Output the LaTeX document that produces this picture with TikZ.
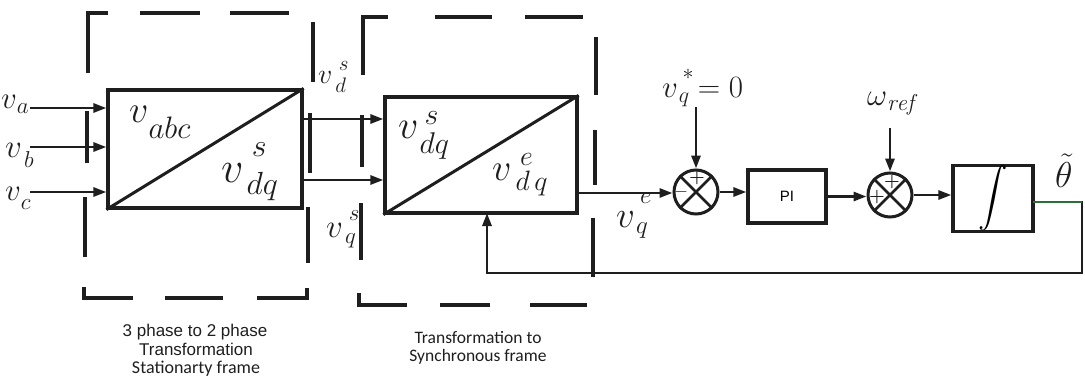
\RequirePackage{fix-cm}
\documentclass[tikz,border=0pt]{standalone}
\usepackage{fontspec}
\newfontfamily\arialf{Liberation Sans}
\newfontfamily\calf{Carlito}
\usetikzlibrary{arrows.meta}
\definecolor{ink}{RGB}{30,30,30}
\definecolor{gline}{RGB}{45,110,55}
\newcommand\fs[1]{\fontsize{#1}{#1}\selectfont}
% \vlab{main size}{script size}{sup}{sub}{sup raise}{sub drop}{gap}
\newcommand\vlab[7]{{\fs{#1}$v$}\hspace{#7}{\fs{#2}\rlap{\raisebox{#5}{$\,#3$}}\raisebox{-#6}{$#4$}}}
\begin{document}
\begin{tikzpicture}[x=1pt,y=-1pt,
  line/.style={draw=ink, line width=2.8pt},
  arr/.style={line, -{Triangle[length=13pt,width=9pt]}},
  blk/.style={draw=ink, line width=3.2pt, inner sep=0pt, fill=white},
  sumj/.style={circle, draw=ink, line width=3pt, minimum size=44pt, inner sep=0pt},
  frame/.style={draw=ink, line width=3.2pt},
  lab/.style={anchor=base west, inner sep=0pt, text=ink},
  captext/.style={anchor=base, inner sep=0pt, text=ink},
  sgn/.style={inner sep=0pt, text=ink, font=\fs{18}\bfseries}]
\useasboundingbox (0,0) rectangle (1085,381);

% ---- dashed frames ----
\draw[frame] (88,73) -- (88,13) -- (108,13);
\draw[frame] (140,13) -- (200,13);
\draw[frame] (230,13) -- (289,13);
\draw[frame] (313,22) -- (313,82);
\draw[frame] (310,113) -- (310,173);
\draw[frame] (308,207) -- (308,263);
\draw[frame] (307,288) -- (307,298) -- (257,298);
\draw[frame] (223,298) -- (165,298);
\draw[frame] (133,298) -- (84,298) -- (84,287);
\draw[frame] (85,257) -- (85,197);
\draw[frame] (87,163) -- (87,111);

\draw[frame] (363,75) -- (363,17) -- (388,17);
\draw[frame] (435,17) -- (492,17);
\draw[frame] (525,17) -- (583,17);
\draw[frame] (596,37) -- (596,95);
\draw[frame] (595,130) -- (595,185);
\draw[frame] (593,218) -- (593,277);
\draw[frame] (587,305) -- (530,305);
\draw[frame] (490,305) -- (440,305);
\draw[frame] (407,305) -- (359,305) -- (359,293);
\draw[frame] (361,260) -- (361,203);
\draw[frame] (362,167) -- (362,115);

% ---- blocks ----
\node[blk, minimum width=194pt, minimum height=118pt] (b1) at (205,149) {};
\draw[line, line width=3pt] (b1.south west) -- (b1.north east);
\node[blk, minimum width=192pt, minimum height=116pt] (b2) at (481,155) {};
\draw[line, line width=3pt] (b2.south west) -- (b2.north east);
\node[blk, minimum width=78pt, minimum height=53pt, font=\arialf\fs{15}] (pi) at (787,196.5) {PI};
\node[blk, minimum width=80pt, minimum height=55pt] (int) at (993,198.5) {\resizebox{!}{40pt}{$\displaystyle\int$}};
\node[sumj] (s1) at (696,192) {};
\draw[line, line width=2.6pt] (s1.north west) -- (s1.south east) (s1.north east) -- (s1.south west);
\node[sumj] (s2) at (890,195) {};
\draw[line, line width=2.6pt] (s2.north west) -- (s2.south east) (s2.north east) -- (s2.south west);
\node[sgn] at (697,178) {+};
\node[sgn] at (681,192) {$-$};
\node[sgn] at (892,182) {+};
\node[sgn] at (877,197) {+};

% ---- block texts ----
\node[lab] at (129,122) {\vlab{38}{31}{}{abc}{0pt}{16pt}{0pt}};
\node[lab] at (221,182) {\vlab{44}{32}{s}{dq}{26pt}{12pt}{3pt}};
\node[lab] at (398,138) {\vlab{40}{30}{s}{dq}{14pt}{15pt}{1pt}};
\node[lab] at (492,180) {\vlab{38}{28}{e}{d\,q}{15pt}{10pt}{4pt}};

% ---- inputs ----
\coordinate (ia) at (30,108);
\coordinate (ib) at (30,147);
\coordinate (ic) at (30,192);
\draw[arr] (ia) -- (ia -| b1.west);
\draw[arr] (ib) -- (ib -| b1.west);
\draw[arr] (ic) -- (ic -| b1.west);
\node[lab] at (1,108) {\vlab{31}{23}{}{a}{0pt}{5pt}{0pt}};
\node[lab] at (5,157) {\vlab{33}{23}{}{b}{0pt}{10pt}{2pt}};
\node[lab] at (5,200) {\vlab{31}{23}{}{c}{0pt}{9pt}{0pt}};

% ---- between blocks ----
\coordinate (o1) at (302,119);
\coordinate (o2) at (302,180);
\draw[arr] (o1) -- (o1 -| b2.west);
\draw[arr] (o2) -- (o2 -| b2.west);
\node[lab] at (318,83) {\vlab{28}{21}{s}{d}{13pt}{9pt}{3pt}};
\node[lab] at (326,237) {\vlab{33}{23}{s}{q}{17pt}{6pt}{2pt}};

% ---- control loop ----
\coordinate (o3) at (577,193);
\draw[arr] (o3) -- (o3 -| s1.west);
\node[lab] at (616,227) {\vlab{37}{25}{e}{q}{24pt}{6pt}{1pt}};
\coordinate (vqs) at (696,107);
\draw[arr] (vqs) -- (s1.north);
\node[lab] at (662,97) {\vlab{31}{22}{*}{q}{18pt}{5pt}{1pt}{\fs{31}$\;=0$}};
\draw[arr] (s1.east) -- (s1.east -| pi.west);
\draw[arr] (pi.east) -- (pi.east -| s2.west);
\coordinate (wr) at (890,128);
\draw[arr] (wr) -- (s2.north);
\node[lab] at (867,105) {{\fs{31}$\omega$}\raisebox{-5pt}{\fs{23}$\mathit{ref}$}};
\draw[arr] (s2.east) -- (s2.east -| int.west);
\coordinate (io) at (1033,202);
\coordinate (fb) at (1082,273);
\coordinate (fbu) at (487,213);
\draw[arr] (io) -| (fb) -| (fbu);
\draw[line, draw=gline] (io) -- (io -| fb);
\node[lab] at (1055,187) {\fs{36}$\tilde{\theta}$};

% ---- captions ----
\node[captext] at (195,336) {\arialf\fs{17}3 phase to 2 phase};
\node[captext] at (196,355) {\arialf\fs{17}Transformation};
\node[captext] at (196,373) {\calf\fs{18}Stationarty frame};
\node[captext] at (478,343) {\calf\fs{17.5}Transformation to};
\node[captext] at (478,361) {\calf\fs{17.5}Synchronous frame};
\end{tikzpicture}
\end{document}
